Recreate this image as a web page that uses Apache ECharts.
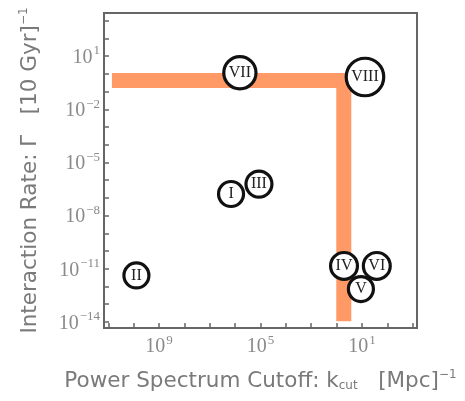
<!DOCTYPE html>
<html>
<head>
<meta charset="utf-8">
<script src="https://cdn.jsdelivr.net/npm/echarts@6/dist/echarts.min.js"></script>
<style>
html,body{margin:0;padding:0;background:#fff;}
#c{width:465px;height:401px;}
</style>
</head>
<body>
<div id="c"></div>
<script>
// Scenario labels and positions (k_cut in Mpc^-1, Gamma in (10 Gyr)^-1)
const labels = ['I', 'II', 'III', 'IV', 'V', 'VI', 'VII', 'VIII'];
const kcut   = [1.45e6, 7.8e9, 1.15e5, 51, 11, 2.6, 6.5e5, 7.6];
const gamma  = [1.66e-7, 4.2e-12, 6.0e-7, 1.45e-11, 7.2e-13, 1.45e-11, 1.15, 0.66];

// Orange constraint band (L-shaped)
const bandK     = [7.2e10, 52, 52];
const bandGamma = [0.42, 0.42, 1.1e-14];

// Axis ticks / labels
const xTickVals  = [1e11,1e10,1e9,1e8,1e7,1e6,1e5,1e4,1e3,1e2,1e1,1e0,1e-1];
const xLabelVals = [1e9, 1e5, 1e1];
const yTickVals  = [1e3,1e2,1e1,1e0,1e-1,1e-2,1e-3,1e-4,1e-5,1e-6,1e-7,1e-8,1e-9,1e-10,1e-11,1e-12,1e-13,1e-14];
const yLabelVals = [1e1, 1e-2, 1e-5, 1e-8, 1e-11, 1e-14];

const measureCtx = document.createElement('canvas').getContext('2d');
measureCtx.font = '16px "Liberation Serif"';
function circleSize(txt){
  const w = measureCtx.measureText(txt).width;
  return Math.max(25, w + 10);
}

function powLabel(v){
  const e = Math.round(Math.log10(v));
  return '{b|10}{s|' + (e < 0 ? '\u2212' + (-e) : e) + '}';
}
const tickRich = {
  b: {fontFamily: 'Liberation Serif', fontSize: 20, color: '#8a8a8a', lineHeight: 23, verticalAlign: 'bottom'},
  s: {fontFamily: 'Liberation Serif', fontSize: 13, color: '#8a8a8a', verticalAlign: 'top', padding: [0,0,8,1]}
};
const nameRich = {
  s: {fontFamily: 'DejaVu Sans', fontSize: 12, color: '#7a7a7a', padding: [0,0,12,0]},
  u: {fontFamily: 'DejaVu Sans', fontSize: 12, color: '#7a7a7a', padding: [9,0,0,0]}
};

const chart = echarts.init(document.getElementById('c'), null, {renderer: 'canvas'});
chart.setOption({
  animation: false,
  grid: {left: 104, right: 48, top: 13, bottom: 73, show: true, borderColor: '#666', borderWidth: 2, backgroundColor: '#fff'},
  xAxis: {
    type: 'log', logBase: 10, inverse: true,
    min: Math.pow(10, -1.17), max: Math.pow(10, 11.17),
    axisLine: {show: true, lineStyle: {color: '#666', width: 2}},
    axisTick: {show: true, inside: true, length: 5, customValues: xTickVals, lineStyle: {color: '#666', width: 1.5}},
    axisLabel: {customValues: xLabelVals, formatter: powLabel, rich: tickRich, margin: 6},
    splitLine: {show: false},
    name: 'Power Spectrum Cutoff: k{u|cut}   [Mpc]{s|\u22121}',
    nameLocation: 'middle', nameGap: 41,
    nameTextStyle: {fontFamily: 'DejaVu Sans', fontSize: 21.5, color: '#7a7a7a', rich: nameRich}
  },
  yAxis: {
    type: 'log', logBase: 10,
    min: Math.pow(10, -14.34), max: Math.pow(10, 3.43),
    axisLine: {show: true, lineStyle: {color: '#666', width: 2}},
    axisTick: {show: true, inside: true, length: 5, customValues: yTickVals, lineStyle: {color: '#666', width: 1.5}},
    axisLabel: {customValues: yLabelVals, formatter: powLabel, rich: tickRich, margin: 4},
    splitLine: {show: false},
    name: 'Interaction Rate: \u0393   [10 Gyr]{s|\u22121}',
    nameLocation: 'middle', nameGap: 62,
    nameTextStyle: {fontFamily: 'DejaVu Sans', fontSize: 21.5, color: '#7a7a7a', rich: nameRich}
  },
  series: [
    {
      type: 'line',
      data: bandK.map((k, i) => [k, bandGamma[i]]),
      symbol: 'none',
      lineStyle: {color: '#FF9966', width: 15, cap: 'butt', join: 'round'},
      z: 1, silent: true
    },
    {
      type: 'scatter',
      data: labels.map((l, i) => ({value: [kcut[i], gamma[i]], name: l, symbolSize: circleSize(l)})),
      symbol: 'circle',
      itemStyle: {color: '#fff', borderColor: '#111', borderWidth: 3.2, opacity: 1},
      label: {show: true, position: 'inside', formatter: p => p.name, fontFamily: 'Liberation Serif', fontSize: 16, color: '#222'},
      z: 3
    }
  ]
});
</script>
</body>
</html>
